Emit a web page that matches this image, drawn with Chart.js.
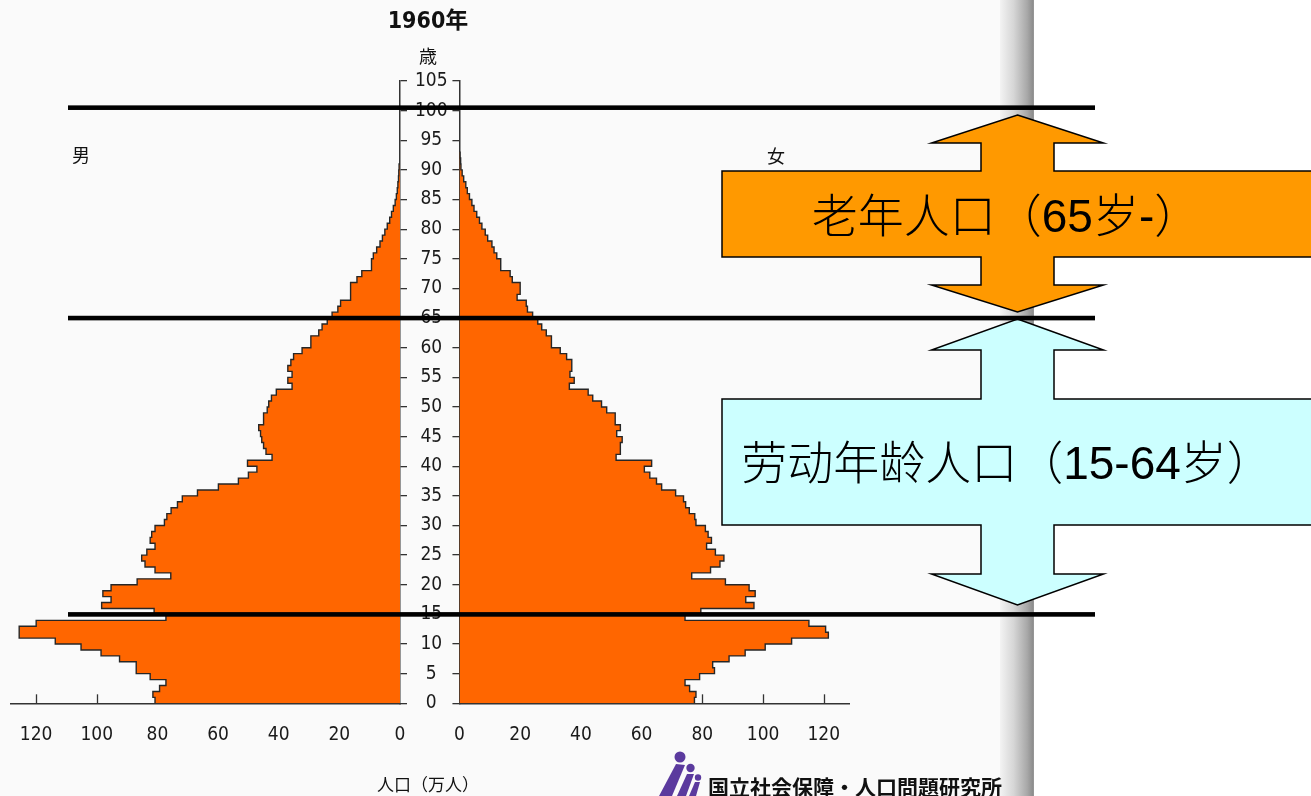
<!DOCTYPE html>
<html>
<head>
<meta charset="utf-8">
<script src="https://cdn.jsdelivr.net/npm/chart.js@4.4.1/dist/chart.umd.min.js"></script>
<style>
  html, body { margin: 0; padding: 0; }
  body { width: 1311px; height: 796px; position: relative; overflow: hidden; background: #fff;
         font-family: 'Noto Sans CJK JP', sans-serif; color: #111; }
  #panel { position: absolute; left: 0; top: 0; width: 1000px; height: 796px; background: #fafafa; }
  #band { position: absolute; left: 1000px; top: 0; width: 34px; height: 796px;
          background: linear-gradient(to right, #f3f3f3 0%, #d6d6d6 40%, #a8a8a8 80%, #8e8e8e 96%, #9a9a9a 100%); }
  canvas { position: absolute; top: 0; }
  #male { left: 0; }
  #female { left: 434px; }
  #overlay { left: 0; pointer-events: none; }
  .t { position: absolute; white-space: nowrap; transform: translateX(-50%); }
  .box { font: 300 46px/50px 'Liberation Sans', 'Noto Sans CJK SC', sans-serif; color: #000; }
</style>
</head>
<body>
<div id="panel"></div>
<div id="band"></div>
<canvas id="male" width="460" height="796"></canvas>
<canvas id="female" width="435" height="796"></canvas>
<canvas id="overlay" width="1311" height="796"></canvas>

<div class="t" style="left:428px; top:9px; font: bold 23px/23px 'Liberation Sans Narrow','DejaVu Sans Condensed','Noto Sans CJK JP',sans-serif;">1960年</div>
<div class="t" style="left:428px; top:46px; font: 18px/18px 'Noto Sans CJK JP',sans-serif;">歳</div>
<div class="t" style="left:81px; top:145px; font: 18px/18px 'Noto Sans CJK JP',sans-serif;">男</div>
<div class="t" style="left:776px; top:146px; font: 18px/18px 'Noto Sans CJK JP',sans-serif;">女</div>
<div class="t" style="left:428px; top:775px; font: 17px/17px 'Noto Sans CJK JP',sans-serif;">人口（万人）</div>
<div class="t box" style="left:1006px; top:191px;">老年人口（65岁-）</div>
<div class="t box" style="left:1007px; top:438px;">劳动年龄人口（15-64岁）</div>
<div style="position:absolute; left:708px; top:776px; font: bold 21px/21px 'Noto Sans CJK JP',sans-serif; white-space:nowrap; color:#111;">国立社会保障・人口問題研究所</div>

<script>
// population by single year of age, 10,000 persons (万人), age 0 first
const maleByAge = [
  80.8, 81.5, 79.3, 77.2, 82.4, 87.0, 87.0, 92.5, 98.6, 105.2,
  113.7, 125.6, 125.6, 120.0, 77.2, 81.1, 98.4, 95.3, 98.0, 95.3,
  86.7, 75.6, 80.8, 84.1, 85.2, 83.5, 80.8, 82.4, 81.9, 80.8,
  77.7, 76.9, 75.5, 73.4, 71.8, 66.8, 59.9, 53.3, 50.0, 47.2,
  50.3, 42.2, 44.2, 45.0, 45.6, 46.0, 46.6, 45.0, 45.0, 43.8,
  43.3, 42.4, 40.8, 35.6, 37.0, 35.6, 37.0, 36.0, 35.1, 32.3,
  29.4, 29.4, 26.8, 25.7, 24.0, 22.4, 20.5, 19.6, 16.3, 16.3,
  16.3, 14.2, 12.6, 9.4, 9.4, 8.8, 7.7, 6.6, 5.8, 5.0,
  4.2, 3.4, 2.8, 2.2, 1.6, 1.2, 0.9, 0.7, 0.5, 0.4,
  0.3
];
const femaleByAge = [
  77.4, 77.9, 75.8, 74.3, 79.1, 84.0, 83.4, 88.8, 94.1, 100.7,
  109.4, 121.5, 120.6, 115.1, 74.3, 79.5, 97.0, 94.3, 97.4, 95.4,
  87.6, 76.5, 82.7, 85.8, 87.1, 84.3, 81.4, 83.0, 81.9, 81.0,
  77.9, 77.5, 75.7, 74.5, 73.8, 71.2, 66.6, 64.9, 62.7, 60.9,
  63.3, 51.6, 53.0, 53.0, 53.6, 51.8, 53.0, 51.3, 51.3, 48.5,
  46.8, 43.9, 42.4, 36.2, 37.8, 36.4, 37.0, 37.0, 35.3, 33.2,
  30.3, 30.3, 28.6, 27.1, 25.8, 24.1, 22.4, 22.0, 19.0, 20.0,
  20.0, 17.4, 16.7, 13.6, 13.6, 12.3, 11.4, 10.7, 9.3, 8.5,
  7.4, 6.6, 5.7, 4.8, 4.1, 3.3, 2.6, 2.1, 1.4, 0.9,
  0.5, 0.4, 0.2
];
const ageTicks = [0, 5, 10, 15, 20, 25, 30, 35, 40, 45, 50, 55, 60, 65, 70, 75, 80, 85, 90, 95, 100, 105];
const popTicks = [0, 20, 40, 60, 80, 100, 120];
const guideAges = [100.5, 65, 15];   // black lines across the chart

const POP_MAX = 128.3;
const tickFont = { family: "'Liberation Sans Narrow', 'DejaVu Sans Condensed', sans-serif", size: 19 };

// short tick marks pointing up from the population axis, under the bars
const innerTicks = {
  id: 'innerTicks',
  beforeDatasetsDraw(chart) {
    const { ctx, chartArea } = chart;
    const x = chart.scales.x;
    ctx.save();
    ctx.strokeStyle = '#333';
    ctx.lineWidth = 1.3;
    popTicks.forEach(v => {
      if (v === 0) return;
      const px = Math.round(x.getPixelForValue(v)) + 0.5;
      ctx.beginPath();
      ctx.moveTo(px, chartArea.bottom);
      ctx.lineTo(px, chartArea.bottom - 9);
      ctx.stroke();
    });
    ctx.restore();
  }
};

function pyramid(id, values, isMale) {
  const points = values.map((v, age) => ({ x: v, y: age }));
  points.push({ x: 0, y: values.length });
  return new Chart(document.getElementById(id), {
    type: 'line',
    data: {
      datasets: [{
        data: points,
        stepped: 'after',
        fill: 'origin',
        backgroundColor: '#ff6600',
        borderColor: '#262626',
        borderWidth: 1.4,
        pointRadius: 0
      }]
    },
    options: {
      indexAxis: 'y',
      responsive: false,
      animation: false,
      events: [],
      layout: { padding: isMale ? { left: 11, top: 81, right: 0, bottom: 0 } : { left: 0, top: 81, right: 20, bottom: 0 } },
      plugins: { legend: { display: false }, tooltip: { enabled: false } },
      scales: {
        x: {
          type: 'linear', min: 0, max: POP_MAX, reverse: isMale,
          afterBuildTicks: s => { s.ticks = popTicks.map(v => ({ value: v })); },
          afterFit: s => { s.height = 92.7; },
          grid: { drawOnChartArea: false, drawTicks: false },
          border: { color: '#333', width: 1.5 },
          ticks: { padding: 20, font: tickFont, color: '#1a1a1a', maxRotation: 0, autoSkip: false }
        },
        y: {
          type: 'linear', min: 0, max: 105, position: isMale ? 'right' : 'left',
          afterBuildTicks: s => { s.ticks = ageTicks.map(v => ({ value: v })); },
          afterFit: s => { s.width = isMale ? 60 : 20; },
          grid: { drawOnChartArea: false, drawTicks: true, tickLength: 7, color: '#333', lineWidth: 1.3 },
          border: { color: '#333', width: 1.5 },
          ticks: { display: isMale, crossAlign: 'center', padding: 8, font: tickFont, color: '#1a1a1a', autoSkip: false }
        }
      }
    },
    plugins: [innerTicks]
  });
}

const maleChart = pyramid('male', maleByAge, true);
const femaleChart = pyramid('female', femaleByAge, false);

// overlay: age-group callouts, guide lines and the logo mark
const ov = document.getElementById('overlay').getContext('2d');

function drawCross(s) {
  const cx = 1017.5, hw = 86, sw = 36.5, left = 722, right = 1320;
  ov.beginPath();
  ov.moveTo(cx, s.tip1);
  ov.lineTo(cx + hw, s.head1);
  ov.lineTo(cx + sw, s.head1);
  ov.lineTo(cx + sw, s.top);
  ov.lineTo(right, s.top);
  ov.lineTo(right, s.bottom);
  ov.lineTo(cx + sw, s.bottom);
  ov.lineTo(cx + sw, s.head2);
  ov.lineTo(cx + hw, s.head2);
  ov.lineTo(cx, s.tip2);
  ov.lineTo(cx - hw, s.head2);
  ov.lineTo(cx - sw, s.head2);
  ov.lineTo(cx - sw, s.bottom);
  ov.lineTo(left, s.bottom);
  ov.lineTo(left, s.top);
  ov.lineTo(cx - sw, s.top);
  ov.lineTo(cx - sw, s.head1);
  ov.lineTo(cx - hw, s.head1);
  ov.closePath();
  ov.fillStyle = s.fill;
  ov.fill();
  ov.strokeStyle = '#000';
  ov.lineWidth = 1.5;
  ov.stroke();
}

drawCross({ tip1: 115, head1: 143, top: 171, bottom: 257, head2: 285, tip2: 312, fill: '#ff9900' });
drawCross({ tip1: 319, head1: 350, top: 399, bottom: 525, head2: 574, tip2: 605, fill: '#ccffff' });

const yAge = maleChart.scales.y;
ov.fillStyle = '#000';
guideAges.forEach(a => {
  const y = yAge.getPixelForValue(a);
  ov.fillRect(68, y - 2.3, 1095 - 68, 4.6);
});

// logo figures
ov.fillStyle = '#5b3a9e';
[[680, 757, 5.5], [690.5, 768, 4.2], [698, 777.5, 3.2]].forEach(([x, y, r]) => {
  ov.beginPath(); ov.arc(x, y, r, 0, Math.PI * 2); ov.fill();
});
[
  [[676, 764], [685, 765], [672, 796], [659, 796]],
  [[687, 774], [694, 774], [686, 796], [677, 796]],
  [[695, 782], [700, 782], [696, 796], [689, 796]]
].forEach(poly => {
  ov.beginPath();
  poly.forEach(([x, y], i) => i ? ov.lineTo(x, y) : ov.moveTo(x, y));
  ov.closePath();
  ov.fill();
});
</script>
</body>
</html>
